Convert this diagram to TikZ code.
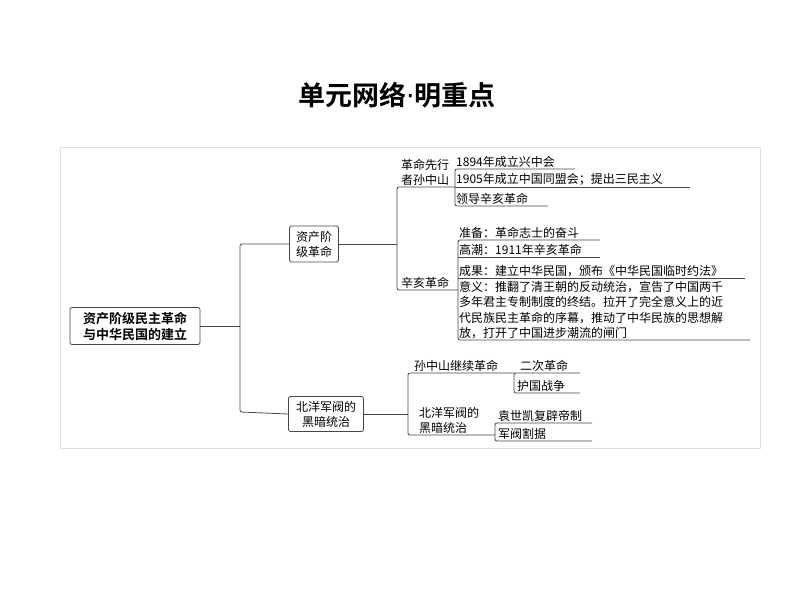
\documentclass[tikz,border=0pt]{standalone}
\usepackage{fontspec}
\newfontfamily\cjk{Noto Sans CJK SC}
\newfontfamily\cjkbold{Noto Sans CJK SC Bold}
\newfontfamily\dotfont{DejaVu Sans}
\begin{document}
\begin{tikzpicture}[x=1pt,y=-1pt]

  % Define the line gray
  \definecolor{linegray}{RGB}{70,70,70}

  \tikzset{
    box/.style={draw=linegray, rounded corners=2pt, line width=0.8pt, align=center,
      inner sep=2pt, font=\cjk\fontsize{12}{15}\selectfont},
    leaf/.style={anchor=south west, inner sep=1pt, align=left,
      font=\cjk\fontsize{12}{15.5}\selectfont},
    branch/.style={draw=linegray, line width=0.8pt, rounded corners=2pt}
  }

  \useasboundingbox (0,0) rectangle (794,596);

  % Title and panel
  \node (title) at (397,95) {\cjkbold\fontsize{27}{30}\selectfont 单元网络{\dotfont·}明重点};
  \draw[gray!25, line width=1pt] (60,148) rectangle (760,448);

  % Main boxes
  \node[box, font=\cjkbold\fontsize{13}{16}\selectfont, minimum width=130pt, minimum height=37pt] (root) at (135,326) {资产阶级民主革命\\与中华民国的建立};
  \node[box, minimum width=49pt, minimum height=36pt] (rev) at (314,244) {资产阶\\级革命};
  \node[box, minimum width=75pt, minimum height=35pt] (north) at (326,414) {北洋军阀的\\黑暗统治};

  % First level brackets
  \draw[branch] (root.east) -- (240,326);
  \draw[branch] (rev.west) -| (240,412) -- (north.west);

  % Upper branch
  \draw[branch] (rev.east) -- (397,244);
  \draw[branch] (455,187) -- (397,187) |- (458,290);
  \node[leaf] (sun) at (400,187) {革命先行\\者孙中山};
  \node[leaf] (xinhai) at (400,290) {辛亥革命};

  % Sun Yat-sen items
  \draw[branch] (575,169) -- (455,169) |- (548,206);
  \draw[branch] (455,187) -- (690,187);
  \node[leaf] (s1) at (455,169) {1894年成立兴中会};
  \node[leaf] (s2) at (455,187) {1905年成立中国同盟会；提出三民主义};
  \node[leaf] (s3) at (455,206) {领导辛亥革命};

  % Revolution of 1911 items
  \draw[branch] (600,240) -- (458,240) |- (750,340);
  \draw[branch] (458,257) -- (600,257);
  \draw[branch] (458,278) -- (745,278);
  \node[leaf] (x1) at (458,240) {准备：革命志士的奋斗};
  \node[leaf] (x2) at (458,257) {高潮：1911年辛亥革命};
  \node[leaf] (x3) at (458,278) {成果：建立中华民国，颁布《中华民国临时约法》};
  \node[leaf] (x4) at (458,340) {意义：推翻了清王朝的反动统治，宣告了中国两千\\多年君主专制制度的终结。拉开了完全意义上的近\\代民族民主革命的序幕，推动了中华民族的思想解\\放，打开了中国进步潮流的闸门};

  % Lower branch
  \draw[branch] (north.east) -- (408,414);
  \draw[branch] (514,373) -- (408,373) |- (495,435);
  \node[leaf] (cont) at (413,373) {孙中山继续革命};
  \node[leaf] (dark) at (418,435) {北洋军阀的\\黑暗统治};

  \draw[branch] (580,373) -- (514,373) |- (580,393);
  \node[leaf] (c1) at (519,373) {二次革命};
  \node[leaf] (c2) at (516,393) {护国战争};

  \draw[branch] (592,423) -- (495,423) |- (592,441);
  \node[leaf] (d1) at (497,423) {袁世凯复辟帝制};
  \node[leaf] (d2) at (497,441) {军阀割据};

\end{tikzpicture}
\end{document}
